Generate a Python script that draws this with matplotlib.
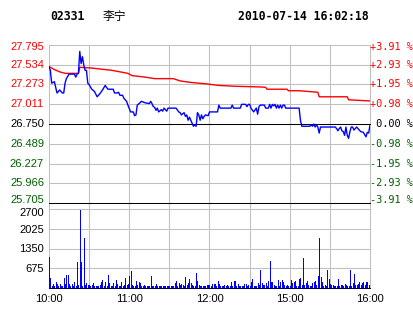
import matplotlib
matplotlib.use('Agg')
import matplotlib.pyplot as plt
from matplotlib.transforms import blended_transform_factory, ScaledTranslation

# ---------------- data ----------------
code = "02331"
name = "李宁"
stamp = "2010-07-14 16:02:18"
prev_close = 26.750

price_levels = [27.795, 27.534, 27.273, 27.011, 26.750, 26.489, 26.227, 25.966, 25.705]
price_labels = ["27.795", "27.534", "27.273", "27.011", "26.750", "26.489", "26.227", "25.966", "25.705"]
pct_labels = ["+3.91 %", "+2.93 %", "+1.95 %", "+0.98 %", " 0.00 %", "-0.98 %", "-1.95 %", "-2.93 %", "-3.91 %"]

vol_levels = [675, 1350, 2025, 2700]
vol_labels = ["675", "1350", "2025", "2700"]

time_ticks = [0, 60, 120, 180, 240]
time_labels = ["10:00", "11:00", "12:00", "15:00", "16:00"]

# price line (minute index since 10:00, trading minutes only)
price_t = [0, 1, 2, 4, 6, 8, 10, 11, 12, 13, 15, 19, 20, 21, 22, 23, 24, 25, 26, 27, 28, 29, 30, 32, 34, 36,
           38, 40, 42, 44, 48, 49, 51, 52, 53, 55, 56, 58, 59, 61, 63, 64, 65, 66, 68, 69, 72, 75, 76, 77,
           78, 79, 80, 81, 82, 84, 85, 86, 88, 89, 95, 97, 98, 99, 101, 102, 103, 104, 105, 106, 107, 108,
           109, 110, 111, 112, 113, 114, 115, 116, 117, 119, 120, 126, 127, 128, 136, 137, 138, 143, 144,
           147, 148, 149, 150, 151, 153, 155, 156, 157, 158, 161, 162, 164, 165, 166, 167, 168, 169, 170,
           171, 172, 173, 174, 175, 176, 177, 187, 188, 189, 195, 196, 197, 198, 199, 200, 201, 202, 203,
           214, 215, 216, 217, 218, 219, 220, 221, 222, 223, 224, 225, 226, 227, 228, 230, 231, 232, 233,
           235, 236, 237, 238, 239, 240]
price_v = [27.51, 27.46, 27.29, 27.31, 27.16, 27.20, 27.16, 27.16, 27.29, 27.35, 27.41, 27.41, 27.37, 27.41,
           27.42, 27.71, 27.55, 27.64, 27.53, 27.46, 27.46, 27.29, 27.27, 27.21, 27.18, 27.11,
           27.15, 27.20, 27.26, 27.21, 27.21, 27.16, 27.16, 27.17, 27.13, 27.13, 27.09, 27.05, 27.00, 26.91,
           26.91, 26.86, 26.87, 27.00, 27.03, 27.05, 27.03, 27.02, 27.05, 27.02,
           26.98, 26.97, 26.93, 26.96, 26.91, 26.94, 26.92, 26.96, 26.92, 26.96, 26.96, 26.91, 26.90, 26.87,
           26.90, 26.85, 26.87, 26.80, 26.84, 26.80, 26.76, 26.72,
           26.74, 26.72, 26.90, 26.87, 26.80, 26.87, 26.82, 26.85, 26.87, 26.86, 26.91, 26.91, 27.00, 26.96,
           26.96, 27.00, 26.96, 26.96, 27.01,
           27.01, 26.98, 27.01, 27.01, 26.96, 26.91, 26.96, 26.88, 26.98, 27.00, 27.00, 26.96, 26.96, 27.01,
           26.96, 27.01, 26.99, 27.01, 26.96,
           27.00, 26.96, 27.00, 26.96, 27.00, 27.00, 26.96, 26.96, 26.80, 26.72, 26.72, 26.74, 26.72, 26.75,
           26.71, 26.74, 26.71, 26.63, 26.71,
           26.71, 26.69, 26.66, 26.69, 26.71, 26.66, 26.65, 26.60, 26.71, 26.60, 26.56, 26.65, 26.71, 26.71,
           26.67, 26.71, 26.69, 26.67, 26.65,
           26.64, 26.61, 26.58, 26.64, 26.63, 26.74]

# average price line
avg_t = [0, 4, 8, 12, 22, 23, 32, 47, 59, 62, 72, 79, 93, 98, 106, 118, 127, 138, 158, 162, 163, 178,
         179, 187, 201, 202, 223, 224, 240]
avg_v = [27.51, 27.47, 27.44, 27.42, 27.42, 27.50, 27.49, 27.46, 27.42, 27.39, 27.37, 27.35, 27.35, 27.32,
         27.30, 27.28, 27.26, 27.25, 27.24, 27.235, 27.21, 27.21, 27.19, 27.19, 27.17, 27.11, 27.11, 27.07,
         27.055]

# volume per minute (0..240)
volume = [
    1070, 330, 60, 130, 60, 190, 150, 60, 150, 60,
    60, 330, 120, 440, 440, 120, 60, 150, 60, 190,
    60, 880, 100, 2650, 880, 60, 1720, 100, 160, 100,
    100, 60, 100, 160, 80, 60, 60, 60, 100, 190,
    270, 60, 190, 60, 440, 160, 60, 60, 160, 60,
    270, 130, 60, 60, 190, 60, 100, 350, 100, 130,
    410, 580, 100, 60, 60, 240, 100, 190, 160, 60,
    60, 100, 60, 60, 60, 60, 410, 80, 60, 60,
    130, 60, 60, 60, 60, 60, 60, 60, 60, 60,
    60, 60, 60, 60, 160, 240, 60, 160, 100, 130,
    100, 60, 390, 100, 160, 310, 160, 100, 60, 60,
    500, 240, 100, 60, 60, 60, 60, 60, 100, 100,
    100, 60, 130, 140, 125, 60, 240, 125, 60, 60,
    60, 100, 60, 100, 60, 60, 190, 60, 240, 240,
    60, 125, 60, 60, 60, 60, 125, 125, 60, 100,
    60, 190, 310, 60, 60, 60, 160, 100, 615, 160,
    100, 100, 160, 60, 240, 920, 190, 190, 100, 60,
    60, 270, 60, 190, 270, 190, 100, 60, 100, 60,
    60, 270, 160, 190, 240, 60, 60, 310, 350, 100,
    1040, 100, 160, 240, 100, 60, 60, 160, 190, 240,
    100, 420, 1720, 390, 190, 60, 100, 60, 615, 310,
    125, 100, 100, 60, 60, 60, 310, 60, 100, 100,
    60, 125, 100, 60, 60, 615, 60, 160, 480, 100,
    100, 125, 210, 100, 160, 190, 100, 190, 210, 100,
    750]
minutes = list(range(len(volume)))

# ---------------- style ----------------
GRID = '#C0C0C0'
RED = '#FF0000'
GREEN = '#006000'
BLUE = '#0000FF'
LW = 0.75
DLW = 1.0

W, H = 414, 314
fig = plt.figure(figsize=(W / 100, H / 100), dpi=100)
fig.patch.set_facecolor('white')


def fx(px):
    return px / W


def fy(py):
    return 1 - py / H


def shift(dx_px, dy_px, base):
    return base + ScaledTranslation(dx_px / 100, dy_px / 100, fig.dpi_scale_trans)


X0, X1 = 49, 370
P_TOP, P_BOT = 45, 203
V_TOP, V_BOT = 209, 288

# background axes: vertical grid spanning both panels
bg = fig.add_axes([fx(X0), fy(V_BOT), (X1 - X0) / W, (V_BOT - P_TOP) / H])
bg.set_xlim(0, 240)
bg.set_ylim(0, 1)
for t in range(30, 240, 30):
    bg.axvline(t, color=GRID, lw=LW)
for s in ['top', 'bottom']:
    bg.spines[s].set_visible(False)
for s in ['left', 'right']:
    bg.spines[s].set_color(GRID)
    bg.spines[s].set_linewidth(LW)
bg.set_xticks([])
bg.set_yticks([])

# price axes
ax = fig.add_axes([fx(X0), fy(P_BOT), (X1 - X0) / W, (P_BOT - P_TOP) / H])
ax.patch.set_alpha(0)
ax.set_xlim(0, 240)
ax.set_ylim(price_levels[-1], price_levels[0])
for s in ax.spines.values():
    s.set_visible(False)
for lvl in price_levels:
    if abs(lvl - prev_close) < 1e-9 or lvl == price_levels[-1]:
        ax.axhline(lvl, color='black', lw=LW, clip_on=False, zorder=2)
    else:
        ax.axhline(lvl, color=GRID, lw=LW, clip_on=False, zorder=1)
ax.plot(avg_t, avg_v, color=RED, lw=DLW, zorder=3)
ax.plot(price_t, price_v, color=BLUE, lw=DLW, zorder=4)
ax.set_xticks([])
ax.set_yticks([])

left_tr = blended_transform_factory(ax.transAxes, ax.transData)
n = len(price_levels)
for i, (lvl, lab, pct) in enumerate(zip(price_levels, price_labels, pct_labels)):
    c = RED if lvl > prev_close + 1e-9 else (GREEN if lvl < prev_close - 1e-9 else 'black')
    dy = -2.5 if i == 0 else (3 if i == n - 1 else 0)
    ax.text(0, lvl, lab, transform=shift(-5, dy, left_tr), ha='right', va='center',
            fontfamily='Liberation Sans', fontsize=8, color=c, clip_on=False)
    ax.text(1.0, lvl, pct, transform=shift(0, dy, left_tr), ha='left', va='center',
            fontfamily='DejaVu Sans Mono', fontsize=7.4, color=c, clip_on=False)

# volume axes
av = fig.add_axes([fx(X0), fy(V_BOT), (X1 - X0) / W, (V_BOT - V_TOP) / H])
av.patch.set_alpha(0)
av.set_xlim(0, 240)
av.set_ylim(0, 2700)
for s in av.spines.values():
    s.set_visible(False)
for lvl in vol_levels:
    av.axhline(lvl, color=GRID, lw=LW, clip_on=False, zorder=1)
av.axhline(0, color='#000040', lw=LW, clip_on=False, zorder=2)
av.vlines(minutes, 0, volume, color=BLUE, lw=0.72, antialiased=False, zorder=3)
av.set_yticks([])
vtr = blended_transform_factory(av.transAxes, av.transData)
for lvl, lab in zip(vol_levels, vol_labels):
    dy = -4 if lvl == vol_levels[-1] else -1
    av.text(0, lvl, lab, transform=shift(-5, dy, vtr), ha='right', va='center',
            fontfamily='Liberation Sans', fontsize=8, color='black', clip_on=False)
av.set_xticks(time_ticks)
av.set_xticklabels(time_labels, fontfamily='Liberation Sans', fontsize=8)
av.tick_params(axis='both', length=0, pad=4)

# header
fig.text(fx(50), fy(17), code, fontfamily='DejaVu Sans Mono', fontweight='bold', fontsize=8.3,
         ha='left', va='center')
fig.text(fx(103), fy(16.5), name, fontfamily=['Noto Sans CJK SC', 'DejaVu Sans'], fontsize=8.5,
         ha='left', va='center')
fig.text(fx(238), fy(17), stamp, fontfamily='DejaVu Sans Mono', fontweight='bold', fontsize=8.3,
         ha='left', va='center')

fig.savefig('out.png', dpi=100, facecolor='white')
